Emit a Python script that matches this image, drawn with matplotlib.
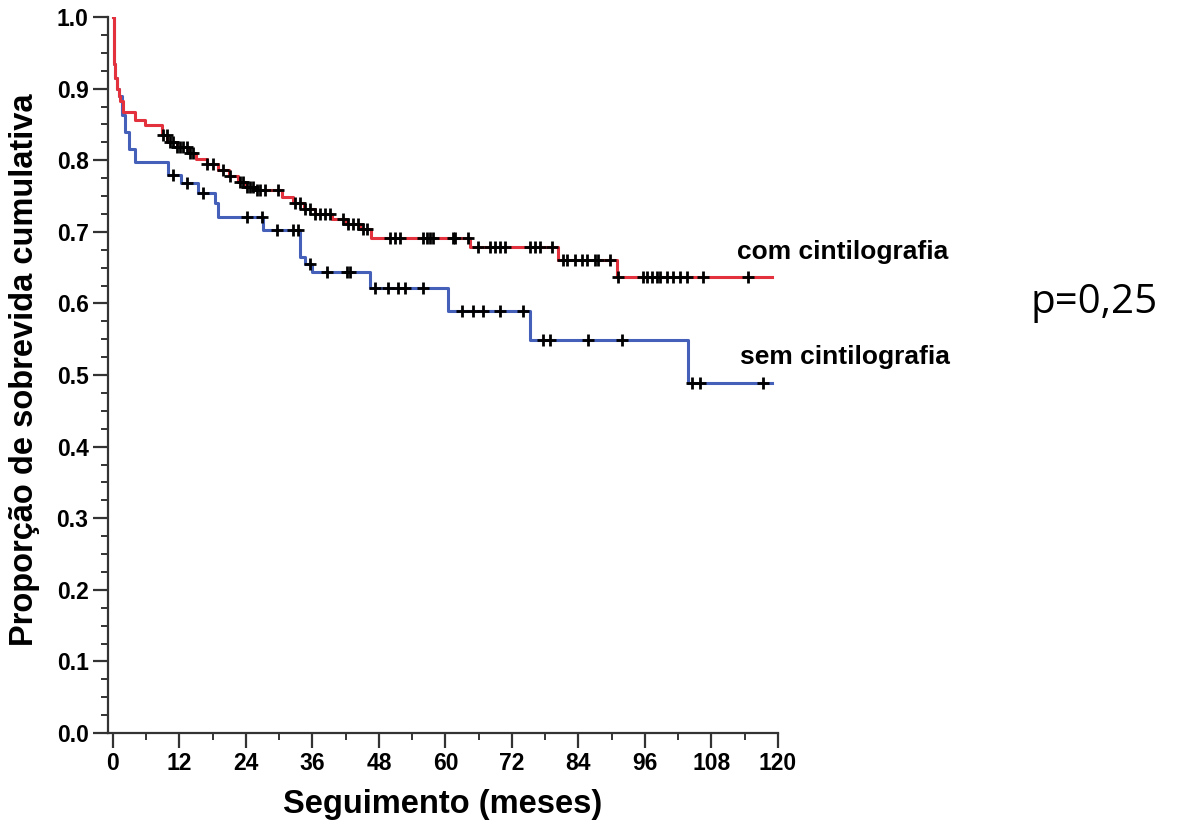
import matplotlib
matplotlib.use('Agg')
import matplotlib.pyplot as plt
from matplotlib.ticker import MultipleLocator
import numpy as np

# Kaplan-Meier steps (time in months, survival after the step)
red_times = [0, 0.1, 0.2, 0.4, 0.7, 1.0, 1.3, 1.8, 4.0, 5.8, 8.8, 9.8, 11.5, 13.5, 15.0,
             17.0, 19.0, 21.0, 22.5, 24.0, 26.0, 30.5, 32.5, 34.5, 36.5, 39.5, 42.0,
             44.5, 46.5, 64.4, 80.3, 91.0, 119.0]
red_surv = [1.0, 0.96, 0.935, 0.915, 0.90, 0.89, 0.882, 0.867, 0.856, 0.849, 0.835, 0.825,
            0.818, 0.81, 0.802, 0.795, 0.787, 0.778, 0.77, 0.763, 0.758, 0.748, 0.74,
            0.732, 0.725, 0.718, 0.711, 0.704, 0.691, 0.679, 0.661, 0.637, 0.637]
red_censor = [9.0, 9.7, 10.3, 10.8, 11.6, 12.1, 12.6, 13.4, 13.9, 14.4, 17.0, 18.1, 19.9,
              21.1, 22.9, 23.5, 24.2, 24.7, 25.3, 26.0, 26.5, 27.4, 29.8, 32.9, 33.8,
              34.7, 35.6, 36.5, 37.4, 38.3, 39.2, 41.5, 42.4, 43.3, 44.2, 45.1, 45.8,
              50.0, 50.9, 51.8, 56.0, 56.7, 57.2, 57.8, 61.4, 61.7, 64.1, 65.9, 68.1,
              69.0, 69.9, 70.8, 75.3, 76.2, 77.1, 79.2, 81.2, 82.0, 83.4, 84.7, 85.6,
              87.0, 87.5, 89.7, 91.1, 95.7, 96.4, 97.3, 98.2, 98.7, 100.0, 101.1, 102.3,
              103.6, 106.5, 114.6]

blue_times = [0, 0.1, 0.2, 0.4, 0.7, 1.0, 1.6, 2.2, 2.8, 4.0, 10.0, 12.3, 15.3, 18.4,
              19.0, 27.0, 33.8, 34.6, 36.0, 46.4, 60.5, 75.3, 103.8, 119.0]
blue_surv = [1.0, 0.96, 0.935, 0.915, 0.90, 0.89, 0.863, 0.84, 0.815, 0.797, 0.78, 0.768,
             0.754, 0.74, 0.72, 0.703, 0.665, 0.655, 0.644, 0.622, 0.59, 0.549, 0.489, 0.489]
blue_censor = [10.8, 13.3, 16.3, 24.2, 26.9, 29.6, 32.5, 33.4, 35.5, 38.6, 42.2, 42.8,
               47.3, 49.6, 51.4, 52.7, 56.0, 63.0, 65.0, 66.8, 69.9, 74.0, 77.6, 78.9,
               85.7, 91.9, 104.5, 106.0, 117.3]

red = '#e3313d'
blue = '#4560b8'


def surv_at(times, surv, t):
    idx = np.searchsorted(times, t, side='right') - 1
    return np.array(surv)[idx]


fig = plt.figure(figsize=(11.79, 8.27), dpi=100)
ax = fig.add_axes([108 / 1179, 1 - 733 / 827, 670 / 1179, 716 / 827])

for times, surv, cens, col in [(blue_times, blue_surv, blue_censor, blue),
                               (red_times, red_surv, red_censor, red)]:
    ax.step(times, surv, where='post', color=col, lw=2.2, zorder=2)
    ax.plot(cens, surv_at(times, surv, cens), ls='none', marker='+',
            ms=9, mew=2, color='black', zorder=3)

ax.set_xlim(-0.9, 120)
ax.set_ylim(0, 1.0)
ax.xaxis.set_major_locator(MultipleLocator(12))
ax.xaxis.set_minor_locator(MultipleLocator(6))
ax.yaxis.set_major_locator(MultipleLocator(0.1))
ax.yaxis.set_minor_locator(MultipleLocator(0.025))
ax.yaxis.set_major_formatter(plt.FuncFormatter(lambda v, p: f'{v:.1f}'))

for s in ['top', 'right']:
    ax.spines[s].set_visible(False)
for s in ['left', 'bottom']:
    ax.spines[s].set_color('#333333')
    ax.spines[s].set_linewidth(1.6)

ax.tick_params(which='major', length=11, width=1.6, color='#333333',
               labelsize=16.5, pad=3)
ax.tick_params(which='minor', length=5, width=1.4, color='#333333')
for lab in ax.get_xticklabels() + ax.get_yticklabels():
    lab.set_fontweight('bold')
    lab.set_family('Liberation Sans')

fig.text(443 / 1179, 1 - 805 / 827, 'Seguimento (meses)', ha='center', va='center',
         fontsize=23.5, fontweight='bold', family='Liberation Sans')
fig.text(25 / 1179, 1 - 370 / 827, 'Proporção de sobrevida cumulativa', ha='center',
         va='center', rotation=90, fontsize=23.5, fontweight='bold', family='Liberation Sans')

fig.text(737 / 1179, 1 - 252 / 827, 'com cintilografia', ha='left', va='center',
         fontsize=19, fontweight='bold', family='Liberation Sans')
fig.text(740 / 1179, 1 - 357 / 827, 'sem cintilografia', ha='left', va='center',
         fontsize=19, fontweight='bold', family='Liberation Sans')
fig.text(1030 / 1179, 1 - 303 / 827, 'p=0,25', ha='left', va='center',
         fontsize=29, family='Open Sans')

fig.savefig('out.png', dpi=100)
